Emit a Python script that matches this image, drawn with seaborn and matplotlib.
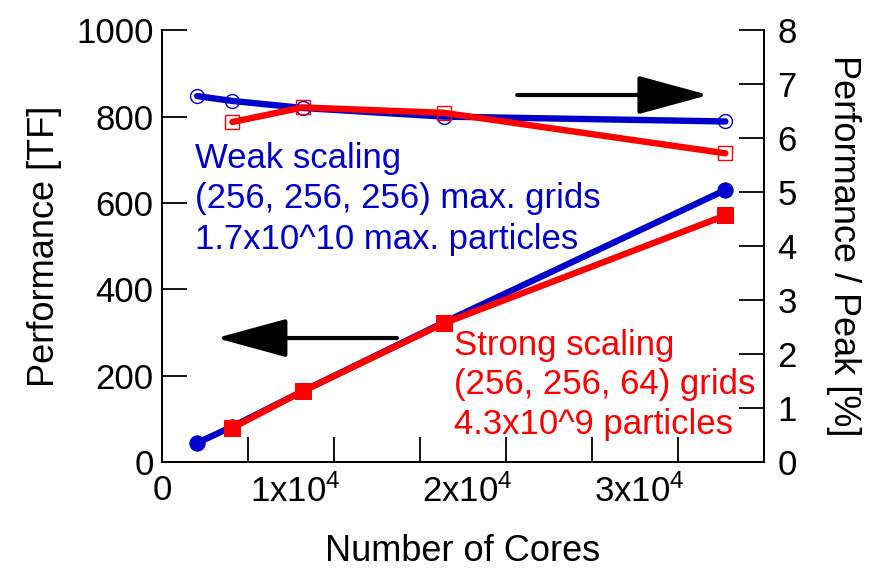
import numpy as np
import pandas as pd
import seaborn as sns
import matplotlib.pyplot as plt
from matplotlib.patches import FancyArrowPatch
from matplotlib.ticker import MultipleLocator

# данные
cores_weak = [2048, 4096, 8192, 16384, 32768]
cores_strong = [4096, 8192, 16384, 32768]
perf_weak = [44, 82, 164, 323, 630]          # TF
perf_strong = [79, 164, 321, 571]            # TF
peak_weak = [6.78, 6.69, 6.56, 6.40, 6.31]   # %
peak_strong = [6.30, 6.57, 6.47, 5.72]       # %

xticks = [0, 10000, 20000, 30000]
xticklabels = ['0', '1x10$^4$', '2x10$^4$', '3x10$^4$']

blue = '#0000CC'
red = '#FF0000'

sns.set_style('ticks')
plt.rcParams['font.family'] = ['Liberation Sans', 'DejaVu Sans']
plt.rcParams['mathtext.default'] = 'regular'
plt.rcParams['text.color'] = 'black'
plt.rcParams['axes.labelcolor'] = 'black'

fig = plt.figure(figsize=(8.85, 5.71), dpi=100)
ax = fig.add_axes([0.183, 0.191, 0.680, 0.756])
ax2 = ax.twinx()

# левая ось - производительность
sns.lineplot(x=cores_weak, y=perf_weak, ax=ax, color=blue, linewidth=4.6,
             marker='o', markersize=11, markeredgecolor=blue)
sns.lineplot(x=cores_strong, y=perf_strong, ax=ax, color=red, linewidth=4.6,
             marker='s', markersize=11, markeredgecolor=red)

# правая ось - доля от пика
sns.lineplot(x=cores_weak, y=peak_weak, ax=ax2, color=blue, linewidth=4.6,
             marker='o', markersize=10, markerfacecolor='none',
             markeredgecolor=blue, markeredgewidth=1.0)
sns.lineplot(x=cores_strong, y=peak_strong, ax=ax2, color=red, linewidth=4.6,
             marker='s', markersize=10, markerfacecolor='none',
             markeredgecolor=red, markeredgewidth=1.0)

ax.set_xlim(0, 35000)
ax.set_ylim(0, 1000)
ax2.set_ylim(0, 8)
ax.yaxis.set_major_locator(MultipleLocator(200))
ax2.yaxis.set_major_locator(MultipleLocator(1))
ax.set_xticks(xticks)
ax.set_xticklabels([])
ax.xaxis.set_minor_locator(MultipleLocator(5000))

# подписи оси X (смещены вправо как в оригинале)
for t, lab in zip(xticks, xticklabels):
    if t == 0:
        ax.annotate(lab, xy=(t, 0), xycoords=('data', 'axes fraction'),
                    xytext=(0, -9), textcoords='offset points',
                    ha='center', va='top', fontsize=25)
    else:
        ax.annotate(lab, xy=(t, 0), xycoords=('data', 'axes fraction'),
                    xytext=(4.5, -9), textcoords='offset points',
                    ha='right', va='top', fontsize=25)

for a in (ax, ax2):
    a.tick_params(which='both', direction='in', length=18, width=1.3,
                  labelsize=25, colors='black', pad=6)
    for s in a.spines.values():
        s.set_linewidth(1.3)
        s.set_color('black')
    a.spines['top'].set_visible(False)
ax.tick_params(axis='y', right=False)
ax2.tick_params(axis='y', left=False, pad=10)
ax.tick_params(axis='x', which='both', top=False)

ax.set_xlabel('Number of Cores', fontsize=26, labelpad=46)
ax.set_ylabel('Performance [TF]', fontsize=26, labelpad=10)
ax2.set_ylabel('Performance / Peak [%]', fontsize=26, rotation=270, labelpad=46)

# подписи
ax.text(1900, 742, 'Weak scaling\n(256, 256, 256) max. grids\n1.7x10^10 max. particles',
        color=blue, fontsize=25, va='top', ha='left', linespacing=1.3)
ax.text(17000, 308, 'Strong scaling\n(256, 256, 64) grids\n4.3x10^9 particles',
        color=red, fontsize=25, va='top', ha='left', linespacing=1.25)

# стрелки
arr_r = FancyArrowPatch((20500, 6.8), (31950, 6.8), transform=ax2.transData,
                        arrowstyle='-|>,head_length=2.2,head_width=0.6',
                        mutation_scale=20, color='black', lw=3)
ax2.add_patch(arr_r)
arr_l = FancyArrowPatch((13830, 287), (3000, 287), transform=ax.transData,
                        arrowstyle='-|>,head_length=2.2,head_width=0.6',
                        mutation_scale=20, color='black', lw=3)
ax.add_patch(arr_l)

fig.savefig('out.png', dpi=100)
